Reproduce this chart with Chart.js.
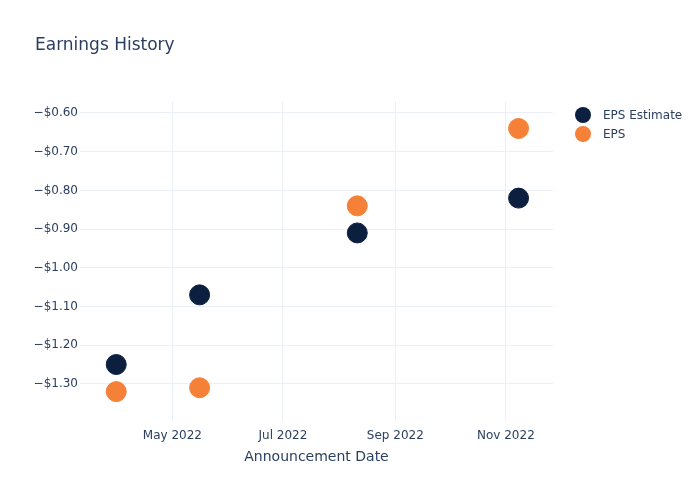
<!DOCTYPE html>
<html>
<head>
<meta charset="utf-8">
<script src="https://cdn.jsdelivr.net/npm/chart.js"></script>
<style>
  html, body { margin: 0; padding: 0; background: #fff; }
  #wrap { width: 700px; height: 500px; }
</style>
</head>
<body>
<div id="wrap"><canvas id="chart" width="700" height="500"></canvas></div>
<script>
// data
const announceDates = ['2022-03-31', '2022-05-16', '2022-08-11', '2022-11-08'];
const epsEstimate = [-1.25, -1.07, -0.91, -0.82];
const epsActual = [-1.32, -1.31, -0.84, -0.64];
const seriesNames = ['EPS Estimate', 'EPS'];
const seriesColors = ['#0c1f3f', '#f58037'];

const xTickDates = ['2022-05-01', '2022-07-01', '2022-09-01', '2022-11-01'];
const xTickLabels = ['May 2022', 'Jul 2022', 'Sep 2022', 'Nov 2022'];
const yTicks = [-0.6, -0.7, -0.8, -0.9, -1.0, -1.1, -1.2, -1.3];

const ms = d => Date.parse(d + 'T00:00:00Z');
const FONT = '"DejaVu Sans", sans-serif';
const TXT = '#2a3f5f';
const GRID = '#ebf0f8';

const toPoints = vals => vals.map((v, i) => ({ x: ms(announceDates[i]), y: v }));

// title + legend drawn by hand (plotly style)
const decor = {
  id: 'decor',
  afterDraw(chart) {
    const ctx = chart.ctx;
    ctx.save();
    ctx.fillStyle = TXT;
    ctx.font = '17px ' + FONT;
    ctx.textBaseline = 'middle';
    ctx.textAlign = 'left';
    ctx.fillText('Earnings History', 35, 46);

    ctx.font = '12px ' + FONT;
    chart.data.datasets.forEach((ds, i) => {
      const y = 115 + i * 19;
      ctx.beginPath();
      ctx.arc(583, y, 8, 0, Math.PI * 2);
      ctx.fillStyle = ds.backgroundColor;
      ctx.fill();
      ctx.fillStyle = TXT;
      ctx.fillText(ds.label, 603, y + 1);
    });
    ctx.restore();
  }
};

new Chart(document.getElementById('chart'), {
  type: 'scatter',
  data: {
    datasets: [
      {
        label: seriesNames[0],
        data: toPoints(epsEstimate),
        backgroundColor: seriesColors[0],
        borderColor: seriesColors[0],
        pointRadius: 10,
        pointHoverRadius: 10
      },
      {
        label: seriesNames[1],
        data: toPoints(epsActual),
        backgroundColor: seriesColors[1],
        borderColor: seriesColors[1],
        pointRadius: 10,
        pointHoverRadius: 10
      }
    ]
  },
  options: {
    responsive: false,
    animation: false,
    layout: { padding: { left: 0, right: 147, top: 101, bottom: 0 } },
    plugins: {
      legend: { display: false },
      tooltip: { enabled: false }
    },
    scales: {
      x: {
        type: 'linear',
        min: ms('2022-03-11'),
        max: ms('2022-11-27'),
        afterBuildTicks: s => { s.ticks = xTickDates.map(d => ({ value: ms(d) })); },
        afterFit: s => { s.height = 79; },
        border: { display: false },
        grid: { color: GRID, drawTicks: false },
        ticks: {
          padding: 8,
          color: TXT,
          font: { family: FONT, size: 12 },
          maxRotation: 0,
          callback: v => xTickLabels[xTickDates.map(ms).indexOf(v)]
        },
        title: {
          display: true,
          text: 'Announcement Date',
          color: TXT,
          font: { family: FONT, size: 14 },
          padding: { top: 12, bottom: 34 }
        }
      },
      y: {
        min: -1.396,
        max: -0.569,
        afterBuildTicks: s => { s.ticks = yTicks.map(v => ({ value: v })); },
        afterFit: s => { s.width = 80; },
        border: { display: false },
        grid: { color: GRID, drawTicks: false },
        ticks: {
          padding: 2,
          color: TXT,
          font: { family: FONT, size: 12 },
          callback: v => '\u2212$' + Math.abs(v).toFixed(2)
        }
      }
    }
  },
  plugins: [decor]
});
</script>
</body>
</html>
